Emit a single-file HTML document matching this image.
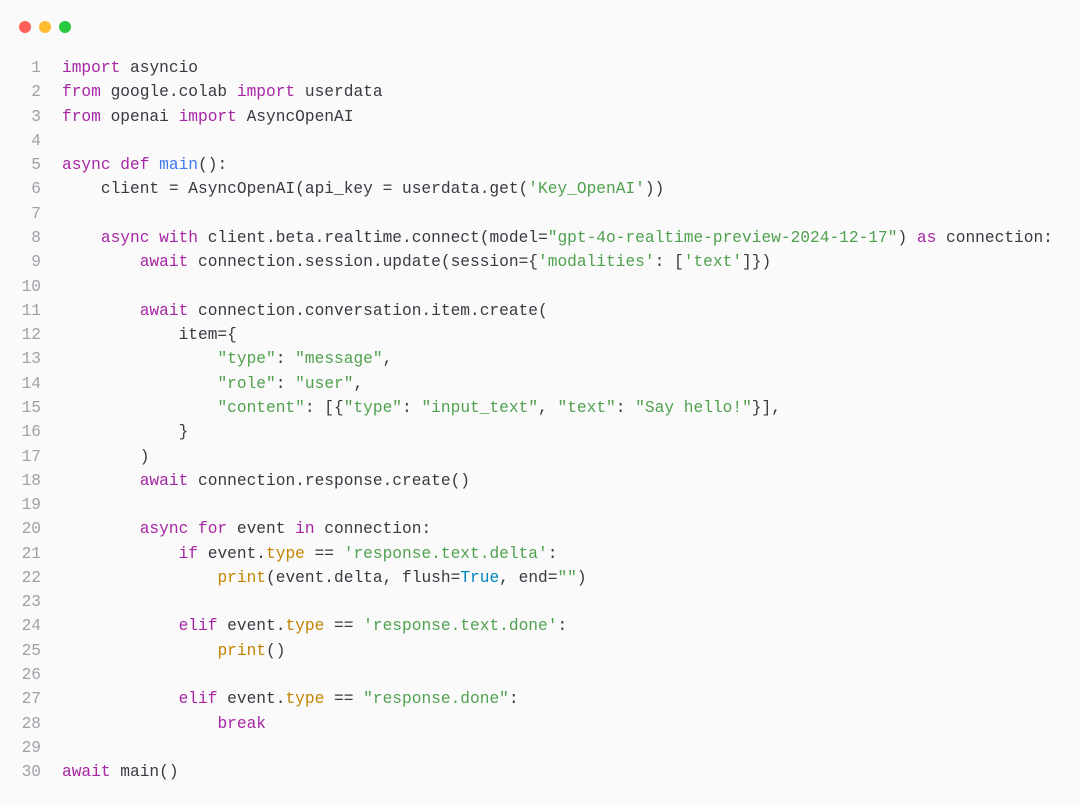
<!DOCTYPE html>
<html><head><meta charset="utf-8"><style>
html,body{margin:0;padding:0;background:#fff;}
.win{position:absolute;left:0;top:0;width:1080px;height:804px;background:#fafafa;}
.dot{position:absolute;top:21px;width:12px;height:12px;border-radius:50%;}
pre{position:absolute;margin:0;top:56px;font-family:"Liberation Mono",monospace;font-size:16.2px;line-height:24.28px;color:#383a42;}
.ln{left:0;width:41px;text-align:right;color:#a0a1a7;}
.code{left:62px;}
.k{color:#a626a4}.s{color:#50a14f}.f{color:#4078f2}.y{color:#c18401}.c{color:#0184bc}
</style></head><body><div class="win">
<div class="dot" style="left:19px;background:#ff5f57"></div>
<div class="dot" style="left:39px;background:#febc2e"></div>
<div class="dot" style="left:59px;background:#28c840"></div>
<pre class="ln">1
2
3
4
5
6
7
8
9
10
11
12
13
14
15
16
17
18
19
20
21
22
23
24
25
26
27
28
29
30</pre>
<pre class="code"><span class="k">import</span> asyncio
<span class="k">from</span> google.colab <span class="k">import</span> userdata
<span class="k">from</span> openai <span class="k">import</span> AsyncOpenAI

<span class="k">async def</span> <span class="f">main</span>():
    client = AsyncOpenAI(api_key = userdata.get(<span class="s">'Key_OpenAI'</span>))

    <span class="k">async with</span> client.beta.realtime.connect(model=<span class="s">"gpt-4o-realtime-preview-2024-12-17"</span>) <span class="k">as</span> connection:
        <span class="k">await</span> connection.session.update(session={<span class="s">'modalities'</span>: [<span class="s">'text'</span>]})

        <span class="k">await</span> connection.conversation.item.create(
            item={
                <span class="s">"type"</span>: <span class="s">"message"</span>,
                <span class="s">"role"</span>: <span class="s">"user"</span>,
                <span class="s">"content"</span>: [{<span class="s">"type"</span>: <span class="s">"input_text"</span>, <span class="s">"text"</span>: <span class="s">"Say hello!"</span>}],
            }
        )
        <span class="k">await</span> connection.response.create()

        <span class="k">async for</span> event <span class="k">in</span> connection:
            <span class="k">if</span> event.<span class="y">type</span> == <span class="s">'response.text.delta'</span>:
                <span class="y">print</span>(event.delta, flush=<span class="c">True</span>, end=<span class="s">""</span>)

            <span class="k">elif</span> event.<span class="y">type</span> == <span class="s">'response.text.done'</span>:
                <span class="y">print</span>()

            <span class="k">elif</span> event.<span class="y">type</span> == <span class="s">"response.done"</span>:
                <span class="k">break</span>

<span class="k">await</span> main()</pre>
</div></body></html>
